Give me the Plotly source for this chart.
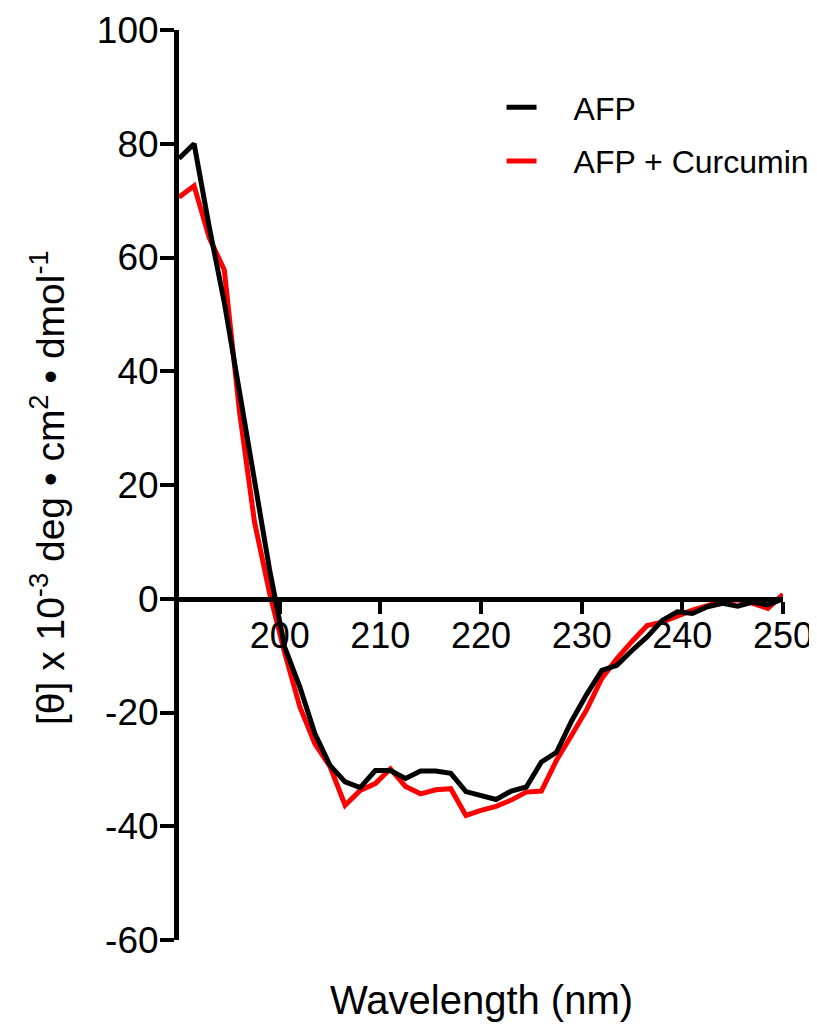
import plotly.graph_objects as go

wavelength = [190 + 1.5 * i for i in range(41)]

afp = [77.4, 80.0, 65.4, 52.1, 36.5, 20.7, 5.1, -8.5, -15.5, -23.7,
       -29.3, -32.2, -33.2, -30.2, -30.2, -31.6, -30.3, -30.3, -30.7, -33.9,
       -34.6, -35.3, -33.8, -33.1, -28.7, -27.0, -21.5, -16.8, -12.6, -11.7,
       -9.1, -6.7, -3.8, -2.3, -2.6, -1.4, -0.8, -1.3, -0.6, -1.1, 0.0]

afp_curcumin = [70.6, 72.6, 63.5, 57.8, 33.0, 13.5, 1.0, -9.5, -19.0, -25.5,
                -29.5, -36.3, -33.7, -32.5, -29.9, -33.0, -34.3, -33.6, -33.4, -38.1,
                -37.2, -36.5, -35.4, -34.0, -33.8, -28.4, -24.0, -19.5, -14.0, -10.5,
                -7.5, -4.7, -4.1, -3.0, -2.0, -1.2, -0.4, -0.2, -0.8, -1.7, 0.8]

series_names = ["AFP", "AFP + Curcumin"]
x_ticks = [200, 210, 220, 230, 240, 250]
y_ticks = [-60, -40, -20, 0, 20, 40, 60, 80, 100]
y_tick_text = [str(v) for v in y_ticks]
x_tick_text = [str(v) for v in x_ticks]

FONT = "Liberation Sans, Arial, sans-serif"
PAD = "\u2002\u2002"

fig = go.Figure()
fig.add_trace(go.Scatter(x=wavelength, y=afp_curcumin, mode="lines",
                         name=PAD + series_names[1], legendgroup="b",
                         line=dict(color="#ff0000", width=5), legendrank=2))
fig.add_trace(go.Scatter(x=wavelength, y=afp, mode="lines",
                         name=PAD + series_names[0], legendgroup="a",
                         line=dict(color="#000000", width=5), legendrank=1))

fig.update_layout(
    width=817, height=1030,
    margin=dict(l=171, r=42, t=22, b=98, autoexpand=False),
    plot_bgcolor="white", paper_bgcolor="white",
    font=dict(family=FONT, color="black"),
    showlegend=True,
    legend=dict(x=0.534, y=0.945, xanchor="left", yanchor="top",
                font=dict(size=32, family=FONT, color="black"),
                bgcolor="rgba(0,0,0,0)", tracegroupgap=9, traceorder="grouped"),
    xaxis=dict(range=[190, 250], tickvals=x_ticks, ticktext=x_tick_text,
               ticks="outside", ticklen=12, tickwidth=4, automargin=False,
               ticklabelstandoff=-9,
               tickcolor="black", showline=True, linecolor="black", linewidth=5,
               showgrid=False, zeroline=False, anchor="free", position=0.375,
               tickfont=dict(size=36, family=FONT, color="black")),
    yaxis=dict(range=[-60, 100], tickvals=y_ticks, ticktext=y_tick_text,
               ticks="outside", ticklen=14, tickwidth=4, automargin=False,
               ticklabelstandoff=-6,
               tickcolor="black", showline=True, linecolor="black", linewidth=5,
               showgrid=False, zeroline=False,
               tickfont=dict(size=37, family=FONT, color="black")),
    annotations=[
        dict(text="Wavelength (nm)", xref="paper", yref="paper", x=0.5, y=-0.066,
             xanchor="center", yanchor="middle", showarrow=False,
             font=dict(size=40, family=FONT, color="black")),
        dict(text="[θ] x 10<sup>-3</sup> deg • cm<sup>2</sup> • dmol<sup>-1</sup>",
             xref="paper", yref="paper", x=-0.218, y=0.497, textangle=-90,
             xanchor="center", yanchor="middle", showarrow=False,
             font=dict(size=39, family=FONT, color="black")),
    ],
)

fig.write_html("out.html")
